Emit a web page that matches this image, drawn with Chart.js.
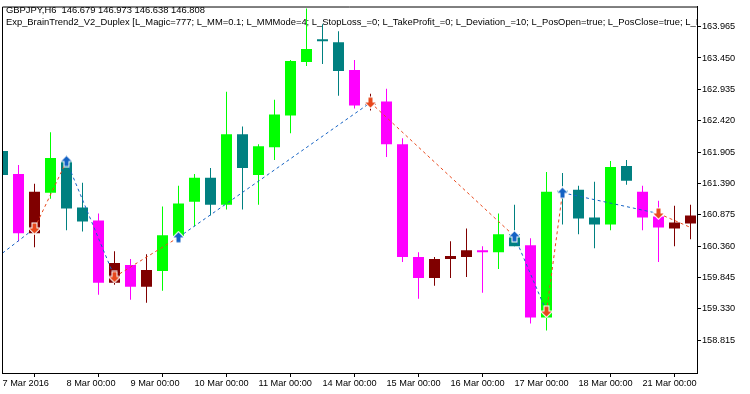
<!DOCTYPE html>
<html><head><meta charset="utf-8">
<script src="https://cdn.jsdelivr.net/npm/chart.js@4.4.1/dist/chart.umd.min.js"></script>
<style>html,body{margin:0;padding:0;background:#fff;overflow:hidden}canvas{display:block}</style>
</head><body>
<canvas id="c" width="750" height="394"></canvas>
<script>
// ---- data (GBPJPY, H6) ----
const categories = [
 '2016.03.07 00:00','2016.03.07 06:00','2016.03.07 12:00','2016.03.07 18:00',
 '2016.03.08 00:00','2016.03.08 06:00','2016.03.08 12:00','2016.03.08 18:00',
 '2016.03.09 00:00','2016.03.09 06:00','2016.03.09 12:00','2016.03.09 18:00',
 '2016.03.10 00:00','2016.03.10 06:00','2016.03.10 12:00','2016.03.10 18:00',
 '2016.03.11 00:00','2016.03.11 06:00','2016.03.11 12:00','2016.03.11 18:00',
 '2016.03.14 00:00','2016.03.14 06:00','2016.03.14 12:00','2016.03.14 18:00',
 '2016.03.15 00:00','2016.03.15 06:00','2016.03.15 12:00','2016.03.15 18:00',
 '2016.03.16 00:00','2016.03.16 06:00','2016.03.16 12:00','2016.03.16 18:00',
 '2016.03.17 00:00','2016.03.17 06:00','2016.03.17 12:00','2016.03.17 18:00',
 '2016.03.18 00:00','2016.03.18 06:00','2016.03.18 12:00','2016.03.18 18:00',
 '2016.03.21 00:00','2016.03.21 06:00','2016.03.21 12:00','2016.03.21 18:00'
];
const openP  = [161.921,161.547,160.571,161.238,161.774,160.994,160.782,159.758,160.050,159.693,159.953,160.522,161.091,161.482,161.042,162.197,161.530,161.986,162.506,163.384,163.742,163.710,163.254,162.685,162.734,162.034,160.181,159.839,160.148,160.181,160.294,160.262,160.555,160.376,159.188,161.254,161.286,160.831,160.717,161.677,161.254,160.847,160.652,160.733];
const highP  = [161.953,161.693,161.384,162.230,161.856,161.400,160.896,160.278,160.148,160.229,161.010,161.351,161.547,161.644,162.896,162.327,162.034,162.766,163.417,164.262,164.002,163.888,163.417,162.864,162.945,162.132,160.262,160.181,160.441,160.652,160.359,160.896,161.042,160.490,161.579,161.563,161.351,161.416,161.758,161.774,161.351,161.108,161.026,161.042];
const lowP   = [161.482,160.441,160.343,161.140,160.620,160.603,159.562,159.725,159.481,159.432,159.628,160.457,160.685,160.864,160.961,160.961,161.042,161.774,162.213,163.319,163.352,162.831,162.620,162.587,161.823,160.099,159.497,159.709,159.839,159.855,159.595,159.985,160.359,159.091,158.977,160.717,160.555,160.327,160.620,161.368,160.620,160.099,160.359,160.473];
const closeP = [161.530,160.571,161.254,161.807,160.977,160.766,159.758,160.083,159.693,159.969,160.538,161.059,161.482,161.042,162.197,161.644,162.002,162.522,163.401,163.596,163.726,163.238,162.669,162.718,162.034,160.181,159.839,160.148,160.197,160.294,160.262,160.555,160.359,159.188,161.254,161.238,160.815,160.717,161.660,161.433,160.831,160.668,160.750,160.864];
// BrainTrend2 state: 1 = up trend, 0 = down trend
const trend = [1,0,0,1,1,1,0,0,0,0,1,1,1,1,1,1,1,1,1,1,1,1,0,0,0,0,0,0,0,0,0,1,1,0,1,1,1,1,1,1,0,0,0,0];
// trade deals drawn by the tester
const signalIdx   = [0,2,4,7,11,23,32,34,35,41,43];
const signalPrice = [160.246,160.652,161.758,159.855,160.506,162.718,160.522,159.286,161.238,160.896,160.668];
const signalType  = ['start','sell','buy','sell','buy','sell','buy','sell','buy','sell','end'];
// axis ticks
const tickIndex  = [0,4,8,12,16,20,24,28,32,36,40];
const tickLabels = ['7 Mar 2016','8 Mar 00:00','9 Mar 00:00','10 Mar 00:00','11 Mar 00:00','14 Mar 00:00','15 Mar 00:00','16 Mar 00:00','17 Mar 00:00','18 Mar 00:00','21 Mar 00:00'];
const yTicks = [163.965,163.450,162.935,162.420,161.905,161.390,160.875,160.360,159.845,159.330,158.815];
const headerLines = [
 'GBPJPY,H6  146.679 146.973 146.638 146.808',
 'Exp_BrainTrend2_V2_Duplex [L_Magic=777; L_MM=0.1; L_MMMode=4; L_StopLoss_=0; L_TakeProfit_=0; L_Deviation_=10; L_PosOpen=true; L_PosClose=true; L_I'
];

// ---- styles ----
const FONT = "'Liberation Sans', Arial, sans-serif";
const UP_BULL='#00FF00', UP_BEAR='#008080', DN_BEAR='#FF00FF', DN_BULL='#800000';
const BLUE='#1462C4', RED='#E8481C';

const candleColors = openP.map((o,i)=> trend[i]
  ? (closeP[i] >= o ? UP_BULL : UP_BEAR)
  : (closeP[i] <= o ? DN_BEAR : DN_BULL));
const bodyData = openP.map((o,i)=>({x:i, y:[o, closeP[i]]}));
const wickData = highP.map((h,i)=>({x:i, y:[lowP[i], h]}));
const sigData  = signalIdx.map((k,i)=>({x:k, y:signalPrice[i]}));

function makeArrow(up, color){
  const c = document.createElement('canvas'); c.width = 13; c.height = 13;
  const g = c.getContext('2d');
  g.beginPath();
  const pts = [[6.5,1.5],[11.5,6.5],[8.5,6.5],[8.5,11.5],[4.5,11.5],[4.5,6.5],[1.5,6.5]];
  pts.forEach((p,i)=>{ const y = up ? p[1] : 13 - p[1]; if(i) g.lineTo(p[0],y); else g.moveTo(p[0],y); });
  g.closePath();
  g.lineWidth = 2; g.strokeStyle = '#fff'; g.lineJoin='miter'; g.stroke();
  g.fillStyle = color; g.fill();
  return c;
}
const upIcon = makeArrow(true, BLUE), downIcon = makeArrow(false, RED);

const framePlugin = {
  id:'frame',
  beforeDatasetsDraw(chart){
    const {ctx, chartArea:a} = chart;
    ctx.save();
    ctx.beginPath(); ctx.rect(a.left, a.top, a.right-a.left, a.bottom-a.top); ctx.clip();
    ctx.fillStyle = '#000'; ctx.font = '9.4px ' + FONT; ctx.textAlign = 'left'; ctx.textBaseline = 'alphabetic';
    ctx.fillText(headerLines[0], 6, 12.5);
    ctx.fillText(headerLines[1], 6, 24.5);
    ctx.restore();
  },
  afterDraw(chart){
    const {ctx, chartArea:a} = chart;
    ctx.save(); ctx.strokeStyle = '#000'; ctx.lineWidth = 1;
    ctx.beginPath();
    ctx.moveTo(a.left+0.5, a.bottom); ctx.lineTo(a.left+0.5, a.top+0.5); ctx.lineTo(a.right, a.top+0.5);
    ctx.stroke(); ctx.restore();
  }
};

new Chart(document.getElementById('c'), {
  type:'bar',
  data:{
    labels: categories,
    datasets:[
      { type:'line', label:'deals', data:sigData, order:0, borderWidth:1, borderDash:[3,3], fill:false, tension:0,
        borderColor:BLUE,
        segment:{ borderColor: ctx => signalType[ctx.p0DataIndex]==='sell' ? RED : BLUE },
        pointStyle: ctx => signalType[ctx.dataIndex]==='buy' ? upIcon : (signalType[ctx.dataIndex]==='sell' ? downIcon : false),
        pointRadius: ctx => (signalType[ctx.dataIndex]==='buy' || signalType[ctx.dataIndex]==='sell') ? 4 : 0,
        pointHoverRadius:0 },
      { label:'body', data:bodyData, order:1, grouped:false, barThickness:11, minBarLength:2,
        backgroundColor:candleColors, borderWidth:0, inflateAmount:0 },
      { label:'wick', data:wickData, order:2, grouped:false, barThickness:1,
        backgroundColor:candleColors, borderWidth:0, inflateAmount:0 }
    ]
  },
  options:{
    responsive:false, animation:false, devicePixelRatio:1,
    layout:{ padding:{ left:2, top:3, right:0, bottom:0 } },
    plugins:{ legend:{display:false}, tooltip:{enabled:false}, title:{display:false} },
    scales:{
      x:{ type:'linear', min:-0.03125, max:43.40625, offset:false,
        afterBuildTicks: s => { s.ticks = tickIndex.map(v=>({value:v})); },
        afterFit: s => { s.height = 21; },
        ticks:{ autoSkip:false, maxRotation:0, minRotation:0, align:'start', padding:1, color:'#000',
          font:{ family:FONT, size:9.2 }, callback: v => tickLabels[tickIndex.indexOf(v)] },
        grid:{ drawOnChartArea:false, drawTicks:true, tickLength:4, color:'#000' },
        border:{ display:true, color:'#000', width:1 } },
      y:{ type:'linear', position:'right', min:158.278, max:164.295,
        afterBuildTicks: s => { s.ticks = yTicks.map(v=>({value:v})); },
        afterFit: s => { s.width = 53; },
        ticks:{ padding:1, color:'#000', font:{ family:FONT, size:9.2 }, callback: v => v.toFixed(3) },
        grid:{ drawOnChartArea:false, drawTicks:true, tickLength:4, color:'#000' },
        border:{ display:true, color:'#000', width:1 } }
    }
  },
  plugins:[framePlugin]
});
</script></body></html>
